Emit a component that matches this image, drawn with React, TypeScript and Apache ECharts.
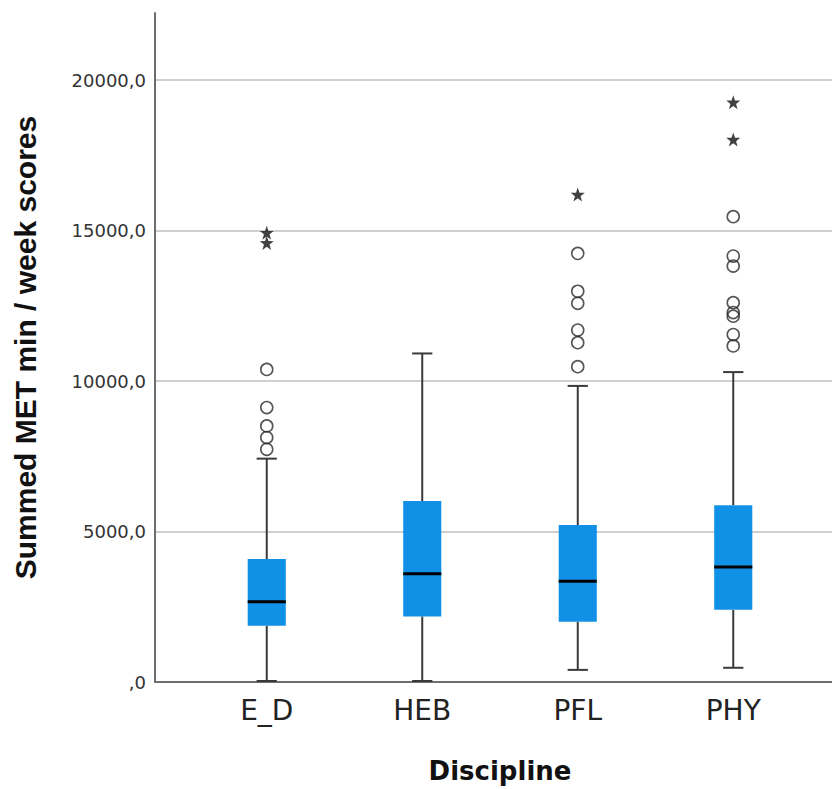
import React, { useEffect, useRef } from "react";
import * as echarts from "echarts";

const categories = ["E_D", "HEB", "PFL", "PHY"];
const whiskerLow = [0, 0, 370, 440];
const quartile1 = [1840, 2150, 1970, 2370];
const medians = [2640, 3570, 3320, 3790];
const quartile3 = [4060, 5990, 5190, 5850];
const whiskerHigh = [7400, 10900, 9820, 10280];

// outliers (circles) and extreme values (stars): [category index, value]
const circleOutliers: [number, number][] = [
  [0, 10370], [0, 9100], [0, 8490], [0, 8100], [0, 7710],
  [2, 14230], [2, 12970], [2, 12570], [2, 11680], [2, 11260], [2, 10460],
  [3, 15450], [3, 14140], [3, 13810], [3, 12590], [3, 12260], [3, 12140], [3, 11530], [3, 11150],
];
const starOutliers: [number, number][] = [
  [0, 14920], [0, 14580],
  [2, 16190],
  [3, 19260], [3, 18020],
];

const yTicks = [0, 5000, 10000, 15000, 20000];
const Y_MAX = 22230;

const STAR =
  "path://M0,-10 L2.35,-3.24 L9.51,-3.09 L3.8,1.24 L5.88,8.09 L0,4 L-5.88,8.09 L-3.8,1.24 L-9.51,-3.09 L-2.35,-3.24 Z";

export default function App() {
  const ref = useRef<HTMLDivElement>(null);
  useEffect(() => {
    if (!ref.current) return;
    const chart = echarts.init(ref.current, undefined, { renderer: "svg" });
    const boxData = categories.map((_, i) => [
      i,
      whiskerLow[i],
      quartile1[i],
      medians[i],
      quartile3[i],
      whiskerHigh[i],
    ]);
    chart.setOption({
      animation: false,
      backgroundColor: "#ffffff",
      grid: [
        { left: 155, right: 0, top: 13, bottom: 107 },
        { left: 189, right: 21, top: 13, bottom: 107 },
      ],
      xAxis: [
        {
          gridIndex: 0,
          type: "value",
          min: 0,
          max: 1,
          axisLine: { show: true, lineStyle: { color: "#6e6e6e", width: 2 } },
          axisTick: { show: false },
          axisLabel: { show: false },
          splitLine: { show: false },
        },
        {
          gridIndex: 1,
          type: "category",
          data: categories,
          axisLine: { show: false },
          axisTick: { show: false },
          splitLine: { show: false },
          axisLabel: {
            fontFamily: "DejaVu Sans",
            fontSize: 28,
            color: "#222",
            margin: 15,
          },
          name: "Discipline",
          nameLocation: "middle",
          nameGap: 77,
          nameTextStyle: {
            fontFamily: "DejaVu Sans",
            fontWeight: "bold",
            fontSize: 26,
            color: "#111",
          },
        },
      ],
      yAxis: [
        {
          gridIndex: 0,
          type: "value",
          min: 0,
          max: Y_MAX,
          interval: 5000,
          axisLine: { show: true, lineStyle: { color: "#6e6e6e", width: 2 } },
          axisTick: { show: false },
          splitLine: {
            show: true,
            showMaxLine: false,
            showMinLine: false,
            lineStyle: { color: "#cfcfcf", width: 2 },
          },
          axisLabel: {
            fontFamily: "DejaVu Sans",
            fontSize: 18,
            color: "#333",
            margin: 9,
            showMaxLabel: false,
            formatter: (v: number) => (yTicks.includes(v) ? (v === 0 ? ",0" : v + ",0") : ""),
          },
          name: "Summed MET min / week scores",
          nameLocation: "middle",
          nameGap: 115,
          nameTextStyle: {
            fontFamily: "Liberation Sans",
            fontWeight: "bold",
            fontSize: 30,
            color: "#111",
          },
        },
        {
          gridIndex: 1,
          type: "value",
          min: 0,
          max: Y_MAX,
          show: false,
          splitLine: { show: false },
        },
      ],
      series: [
        {
          type: "custom",
          xAxisIndex: 1,
          yAxisIndex: 1,
          z: 3,
          data: boxData,
          encode: { x: 0, y: [1, 2, 3, 4, 5] },
          renderItem: (params: any, api: any) => {
            const idx = api.value(0);
            const pLow = api.coord([idx, api.value(1)]);
            const pQ1 = api.coord([idx, api.value(2)]);
            const pMed = api.coord([idx, api.value(3)]);
            const pQ3 = api.coord([idx, api.value(4)]);
            const pHigh = api.coord([idx, api.value(5)]);
            const band = api.size([1, 0])[0];
            const bw = band * 0.245;
            const cw = band * 0.13;
            const x = pMed[0];
            const wStyle = { stroke: "#3a3a3a", lineWidth: 2 };
            return {
              type: "group",
              children: [
                { type: "line", shape: { x1: x, y1: pQ1[1], x2: x, y2: pLow[1] }, style: wStyle },
                { type: "line", shape: { x1: x - cw / 2, y1: pLow[1], x2: x + cw / 2, y2: pLow[1] }, style: wStyle },
                { type: "line", shape: { x1: x, y1: pQ3[1], x2: x, y2: pHigh[1] }, style: wStyle },
                { type: "line", shape: { x1: x - cw / 2, y1: pHigh[1], x2: x + cw / 2, y2: pHigh[1] }, style: wStyle },
                {
                  type: "rect",
                  shape: { x: x - bw / 2, y: pQ3[1], width: bw, height: pQ1[1] - pQ3[1] },
                  style: { fill: "#1191e6" },
                },
                {
                  type: "line",
                  shape: { x1: x - bw / 2, y1: pMed[1], x2: x + bw / 2, y2: pMed[1] },
                  style: { stroke: "#000", lineWidth: 3 },
                },
              ],
            };
          },
        },
        {
          type: "scatter",
          xAxisIndex: 1,
          yAxisIndex: 1,
          z: 4,
          data: circleOutliers,
          symbol: "circle",
          symbolSize: 12,
          itemStyle: { color: "rgba(255,255,255,0)", borderColor: "#2a2a2a", borderWidth: 1.6 },
        },
        {
          type: "scatter",
          xAxisIndex: 1,
          yAxisIndex: 1,
          z: 4,
          data: starOutliers,
          symbol: STAR,
          symbolSize: 14,
          itemStyle: { color: "#111" },
        },
      ],
    });
    return () => chart.dispose();
  }, []);
  return (
    <div
      ref={ref}
      style={{ position: "fixed", left: 0, top: 0, width: 832, height: 789, background: "#fff" }}
    />
  );
}
